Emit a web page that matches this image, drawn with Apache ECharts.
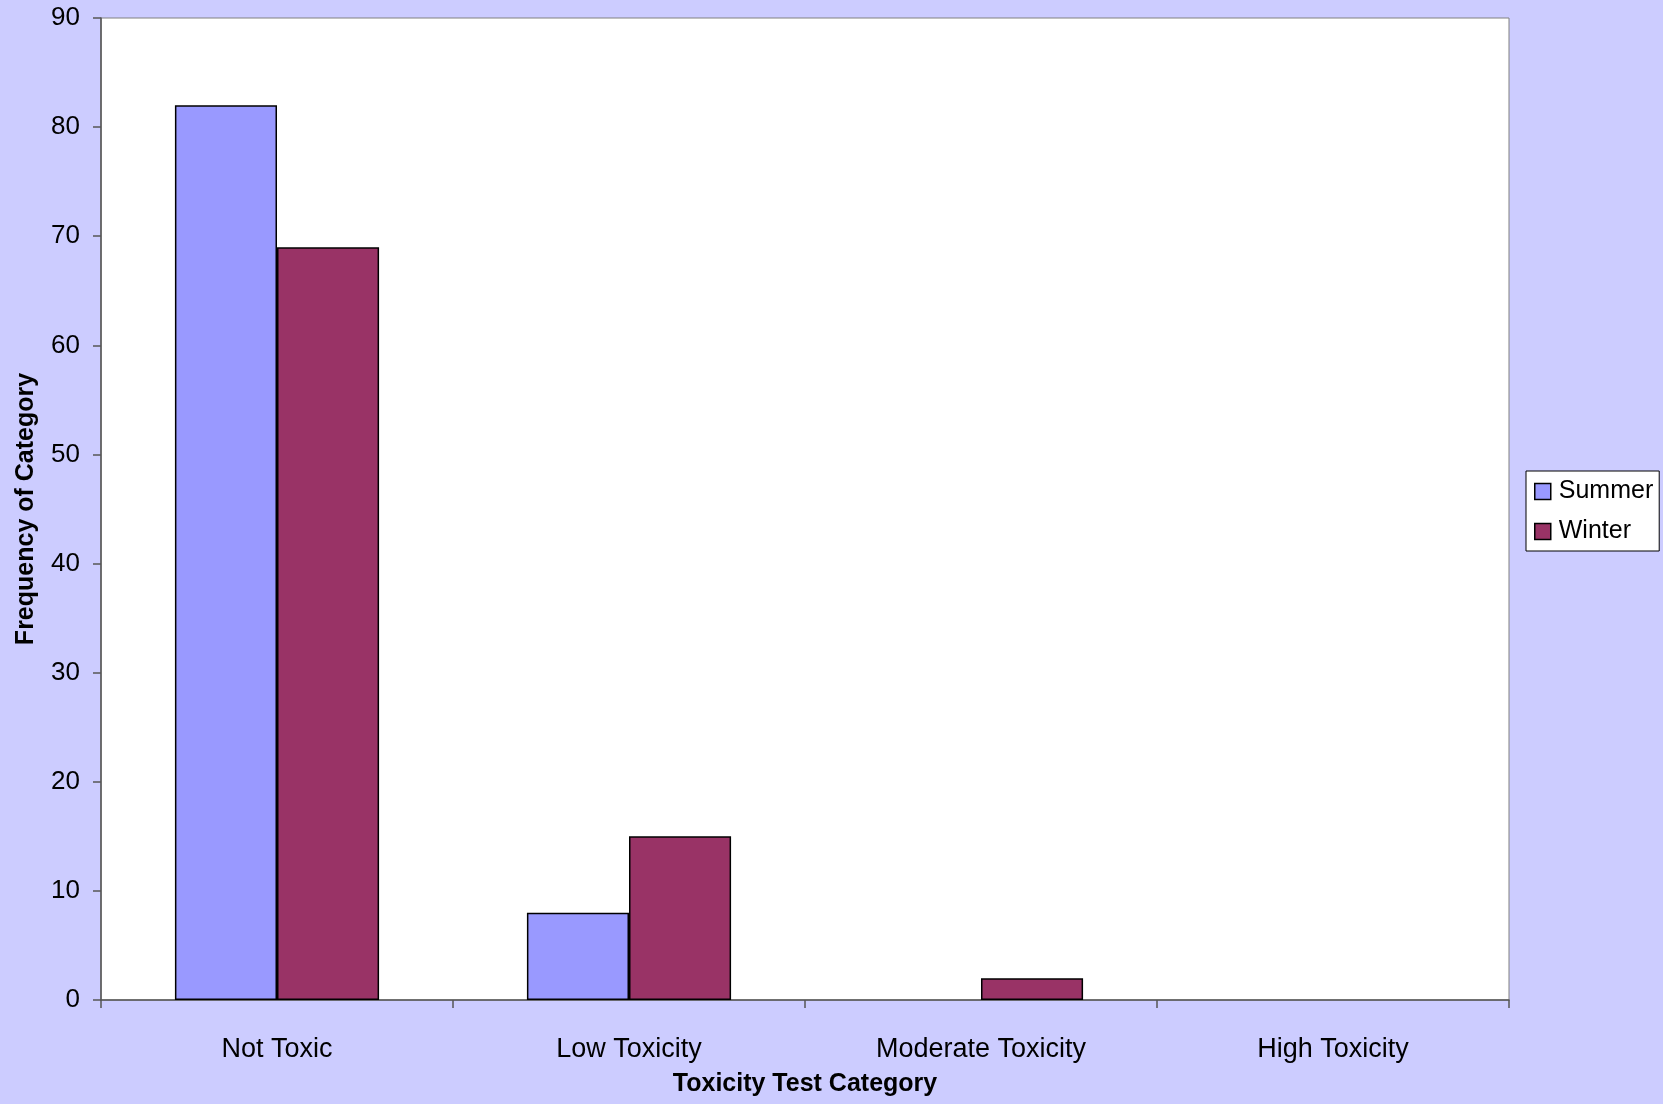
<!DOCTYPE html>
<html>
<head>
<meta charset="utf-8">
<script src="https://cdn.jsdelivr.net/npm/echarts@6/dist/echarts.min.js"></script>
<style>
  html, body { margin: 0; padding: 0; background: #CCCCFF; }
  #chart { width: 1663px; height: 1104px; }
</style>
</head>
<body>
<div id="chart"></div>
<script>
let categories = ['Not Toxic', 'Low Toxicity', 'Moderate Toxicity', 'High Toxicity'];
let summerData = [82, 8, 0, 0];
let winterData = [69, 15, 2, 0];
let seriesNames = ['Summer', 'Winter'];
const colorList = ['#9999FF', '#993366'];

// zero-height bars are not drawn at all in the original (no outline)
function hideZero(arr) {
    return arr.map(v => v === 0 ? null : v);
}

let chart = echarts.init(document.getElementById('chart'));

let option = {
    backgroundColor: '#CCCCFF',
    color: colorList,
    textStyle: {
        fontFamily: '"Liberation Sans", Arial, sans-serif'
    },
    grid: {
        left: 101,
        right: 154,
        top: 18,
        bottom: 104,
        show: true,
        backgroundColor: '#fff',
        borderColor: '#808080',
        borderWidth: 1,
        containLabel: false
    },
    legend: {
        data: seriesNames,
        orient: 'vertical',
        left: 1526,
        top: 471,
        itemWidth: 16,
        itemHeight: 16,
        itemGap: 15,
        padding: [8, 6, 7, 8],
        backgroundColor: '#fff',
        borderColor: '#000',
        borderWidth: 1,
        icon: 'rect',
        itemStyle: {
            borderColor: '#000',
            borderWidth: 1.5
        },
        textStyle: {
            color: '#000',
            fontSize: 25,
            padding: [0, 0, 0, 3]
        }
    },
    xAxis: {
        type: 'category',
        data: categories,
        name: 'Toxicity Test Category',
        nameLocation: 'middle',
        nameGap: 72,
        nameTextStyle: {
            color: '#000',
            fontSize: 25,
            fontWeight: 'bold',
            verticalAlign: 'top'
        },
        axisLine: {
            show: true,
            lineStyle: { color: '#555', width: 1.5 }
        },
        axisTick: {
            show: true,
            length: 8,
            lineStyle: { color: '#555', width: 1.5 }
        },
        axisLabel: {
            color: '#000',
            fontSize: 27,
            margin: 36
        },
        splitLine: { show: false }
    },
    yAxis: {
        type: 'value',
        min: 0,
        max: 90,
        interval: 10,
        name: 'Frequency of Category',
        nameLocation: 'middle',
        nameGap: 62,
        nameTextStyle: {
            color: '#000',
            fontSize: 25,
            fontWeight: 'bold'
        },
        axisLine: {
            show: true,
            lineStyle: { color: '#555', width: 1.5 }
        },
        axisTick: {
            show: true,
            length: 8,
            lineStyle: { color: '#555', width: 1.5 }
        },
        axisLabel: {
            color: '#000',
            fontSize: 26,
            margin: 21
        },
        splitLine: { show: false }
    },
    series: [{
            name: seriesNames[0],
            type: 'bar',
            data: hideZero(summerData),
            barGap: '0%',
            barCategoryGap: '42%',
            itemStyle: {
                color: colorList[0],
                borderColor: '#000',
                borderWidth: 1.5
            }
        },
        {
            name: seriesNames[1],
            type: 'bar',
            data: hideZero(winterData),
            barGap: '0%',
            barCategoryGap: '42%',
            itemStyle: {
                color: colorList[1],
                borderColor: '#000',
                borderWidth: 1.5
            }
        }
    ]
};

chart.setOption(option);
</script>
</body>
</html>
